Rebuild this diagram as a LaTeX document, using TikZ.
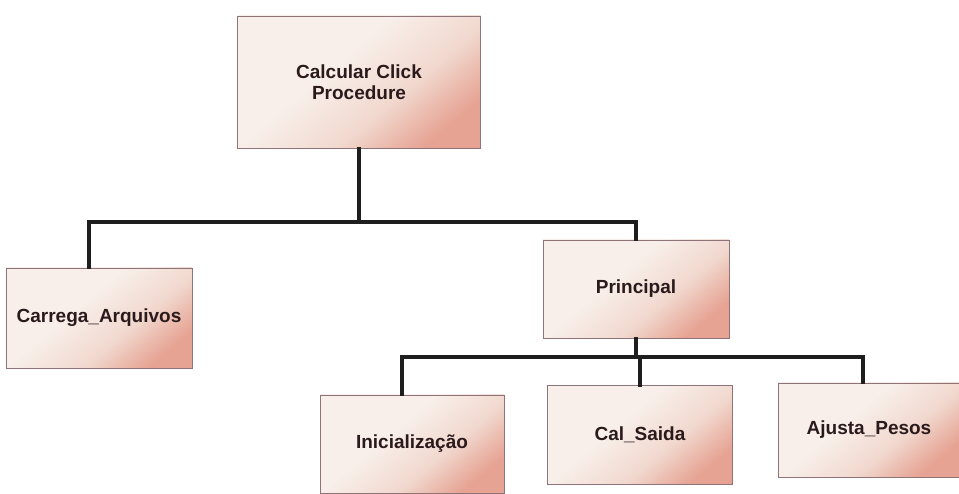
\documentclass[tikz,border=0pt]{standalone}
\usepackage{fontspec}
\setmainfont{Liberation Sans}
\definecolor{boxlight}{HTML}{F8EFEA}
\definecolor{boxmid}{HTML}{F1D8CE}
\definecolor{boxpink}{HTML}{E6A393}
\definecolor{boxedge}{HTML}{8E7479}
\definecolor{labeltext}{HTML}{2B1A1C}
\definecolor{linkline}{HTML}{1E1E1E}
% cream fill that turns pink towards one corner
\pgfdeclareverticalshading{boxshade}{100bp}{%
  color(0bp)=(boxpink); color(25bp)=(boxpink); color(40bp)=(boxmid);
  color(58bp)=(boxlight); color(100bp)=(boxlight)}
\tikzset{
  procbox/.style={rectangle, draw=boxedge, line width=0.6pt,
    shading=boxshade, shading angle=40, align=center, inner sep=2pt,
    text=labeltext, font=\fontsize{19}{21.5}\selectfont\bfseries},
  link/.style={draw=linkline, line width=3.2pt, line cap=rect}
}
\begin{document}
\begin{tikzpicture}[x=1pt, y=-1pt]
  \useasboundingbox (0,0) rectangle (959,494);
  \fill[white] (0,0) rectangle (959,494);

  % procedure boxes
  \node[procbox, minimum width=243pt, minimum height=132pt] (top) at (359,82)
    {Calcular Click\\Procedure};
  \node[procbox, minimum width=186pt, minimum height=100pt] (carrega) at (99,318)
    {Carrega\_Arquivos};
  \node[procbox, minimum width=186pt, minimum height=98pt] (principal) at (636,289)
    {Principal};
  \node[procbox, minimum width=184pt, minimum height=98pt] (inic) at (412,444)
    {Inicialização};
  \node[procbox, minimum width=185pt, minimum height=99pt] (cal) at (640,435)
    {Cal\_Saida};
  \node[procbox, minimum width=182pt, minimum height=94pt] (ajusta) at (869,430)
    {Ajusta\_Pesos};

  % junction levels of the two tree branches
  \coordinate (bar1) at (0,222);
  \coordinate (bar2) at (0,357);

  % first level
  \draw[link] (top.south) -- (top.south |- bar1);
  \draw[link] (carrega.north -| 89,0) -- (89,222) -- (principal.north |- bar1)
    -- (principal.north);

  % second level
  \draw[link] (principal.south) -- (principal.south |- bar2);
  \draw[link] (inic.north -| 402,0) -- (402,357) -- (863,357) -- (ajusta.north -| 863,0);
  \draw[link] (cal.north) -- (cal.north |- bar2);
\end{tikzpicture}
\end{document}
